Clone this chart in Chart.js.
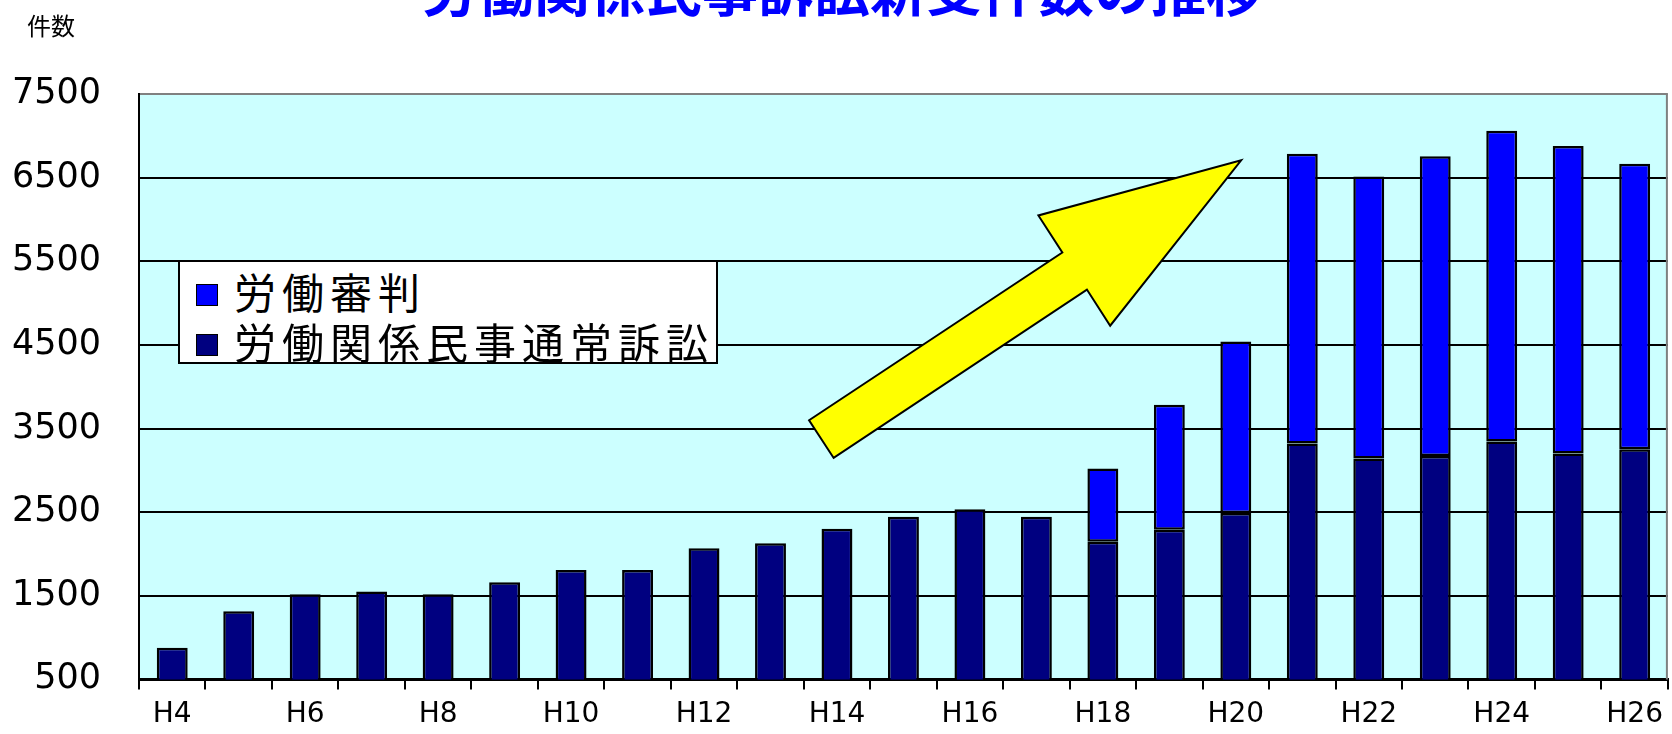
<!DOCTYPE html>
<html>
<head>
<meta charset="utf-8">
<script src="https://cdn.jsdelivr.net/npm/chart.js@4.4.0/dist/chart.umd.min.js"></script>
<style>
  html, body { margin: 0; padding: 0; background: #fff; overflow: hidden; }
  #wrap { position: relative; width: 1672px; height: 734px; overflow: hidden; }
  #chart { position: absolute; left: 0; top: -44px; }
  #legend {
    position: absolute; left: 178px; top: 260px; width: 536px; height: 100px;
    background: #fff; border: 2px solid #000; box-sizing: content-box;
    font-family: "Noto Sans CJK JP", sans-serif; font-size: 42px; letter-spacing: 6px;
    color: #000;
  }
  #legend .item { position: absolute; left: 16px; height: 50px; line-height: 50px; white-space: nowrap; }
  #legend .box { display: inline-block; width: 20px; height: 20px; border: 1px solid #000; vertical-align: middle; margin-right: 16px; position: relative; top: -3px; }
</style>
</head>
<body>
<div id="wrap">
  <canvas id="chart" width="1672" height="785"></canvas>
  <div id="legend"></div>
</div>
<script>
// 年度（平成）
const years = ['H4','H5','H6','H7','H8','H9','H10','H11','H12','H13','H14','H15',
               'H16','H17','H18','H19','H20','H21','H22','H23','H24','H25','H26'];
// 労働関係民事通常訴訟
const tsujoSosho = [880, 1315, 1519, 1550, 1519, 1663, 1810, 1810, 2070, 2130, 2302, 2445,
                    2534, 2445, 2146, 2290, 2490, 3321, 3141, 3173, 3345, 3201, 3253];
// 労働審判（H18から）
const roudouShinpan = [null, null, null, null, null, null, null, null, null, null, null, null,
                       null, null, 877, 1494, 2052, 3468, 3375, 3586, 3719, 3678, 3416];
const yTicks = [500, 1500, 2500, 3500, 4500, 5500, 6500, 7500];
const titleText = '労働関係民事訴訟新受件数の推移';
const unitText = '件数';
// 矢印（x: 年度のindex, y: 件数）
const arrowPath = [[9.58, 3600], [13.39, 5606], [13.03, 6050], [16.08, 6709],
                   [14.11, 4731], [13.76, 5163], [9.95, 3149]];

const bgPlugin = {
  id: 'bg',
  beforeDraw(chart) {
    const { ctx, chartArea: a } = chart;
    ctx.save();
    ctx.fillStyle = '#CCFFFF';
    ctx.fillRect(a.left, a.top, a.right - a.left, a.bottom - a.top);
    ctx.restore();
  },
  afterDatasetsDraw(chart) {
    const { ctx, scales } = chart;
    ctx.save();
    ctx.beginPath();
    arrowPath.forEach((p, i) => {
      const x = scales.x.getPixelForValue(p[0]);
      const y = scales.y.getPixelForValue(p[1]);
      if (i === 0) ctx.moveTo(x, y); else ctx.lineTo(x, y);
    });
    ctx.closePath();
    ctx.fillStyle = '#FFFF00';
    ctx.fill();
    ctx.lineWidth = 2;
    ctx.lineJoin = 'miter';
    ctx.strokeStyle = '#000';
    ctx.stroke();
    ctx.restore();
  },
  afterDraw(chart) {
    const { ctx, chartArea: a } = chart;
    ctx.save();
    // 右枠
    ctx.strokeStyle = '#808080';
    ctx.lineWidth = 2;
    ctx.beginPath();
    ctx.moveTo(a.right - 1, a.top);
    ctx.lineTo(a.right - 1, a.bottom);
    ctx.stroke();
    // 単位
    ctx.fillStyle = '#000';
    ctx.font = '24px "Noto Sans CJK JP", sans-serif';
    ctx.textBaseline = 'middle';
    ctx.textAlign = 'left';
    ctx.fillText(unitText, 27, 70);
    ctx.restore();
  }
};

const chart = new Chart(document.getElementById('chart'), {
  type: 'bar',
  data: {
    labels: years,
    datasets: [
      {
        label: '労働関係民事通常訴訟',
        data: tsujoSosho,
        backgroundColor: '#000080',
        borderColor: '#000',
        borderWidth: 2.5,
        borderSkipped: false,
        barPercentage: 0.465,
        categoryPercentage: 1
      },
      {
        label: '労働審判',
        data: roudouShinpan,
        backgroundColor: '#0000FF',
        borderColor: '#000',
        borderWidth: 2.5,
        borderSkipped: false,
        barPercentage: 0.465,
        categoryPercentage: 1
      }
    ]
  },
  options: {
    responsive: false,
    animation: false,
    devicePixelRatio: 1,
    layout: { padding: { left: 12, right: 0, top: 0, bottom: 0 } },
    plugins: {
      legend: { display: false },
      tooltip: { enabled: false },
      title: {
        display: true,
        text: titleText,
        color: '#0000FF',
        font: { family: '"Noto Sans CJK JP", sans-serif', size: 56, weight: 'bold' },
        padding: { top: 0, bottom: 71 }
      }
    },
    scales: {
      x: {
        stacked: true,
        grid: { display: true, drawOnChartArea: false, drawTicks: true, tickLength: 10, color: '#000', lineWidth: 2 },
        border: { display: true, color: '#000', width: 3 },
        ticks: {
          color: '#000',
          font: { family: '"DejaVu Sans", sans-serif', size: 28 },
          maxRotation: 0,
          autoSkip: false,
          padding: 9,
          callback: function (val, i) { return i % 2 === 0 ? this.getLabelForValue(val) : ''; }
        }
      },
      y: {
        stacked: true,
        min: 500,
        max: 7500,
        afterBuildTicks: (axis) => { axis.ticks = yTicks.map(v => ({ value: v })); },
        afterFit: (axis) => { axis.width = 127; },
        grid: {
          drawTicks: false,
          lineWidth: 2,
          color: (c) => (c.tick && c.tick.value === 7500 ? '#808080' : '#000')
        },
        border: { display: true, color: '#000', width: 2 },
        ticks: {
          color: '#000',
          font: { family: '"DejaVu Sans", sans-serif', size: 35 },
          padding: 38,
          callback: (v) => String(v)
        }
      }
    }
  },
  plugins: [bgPlugin]
});

// 凡例（HTML）
const legendEl = document.getElementById('legend');
chart.data.datasets.slice().reverse().forEach((ds, i) => {
  const item = document.createElement('div');
  item.className = 'item';
  item.style.top = (4 + i * 50) + 'px';
  const box = document.createElement('span');
  box.className = 'box';
  box.style.background = ds.backgroundColor;
  item.appendChild(box);
  item.appendChild(document.createTextNode(ds.label));
  legendEl.appendChild(item);
});
</script>
</body>
</html>
